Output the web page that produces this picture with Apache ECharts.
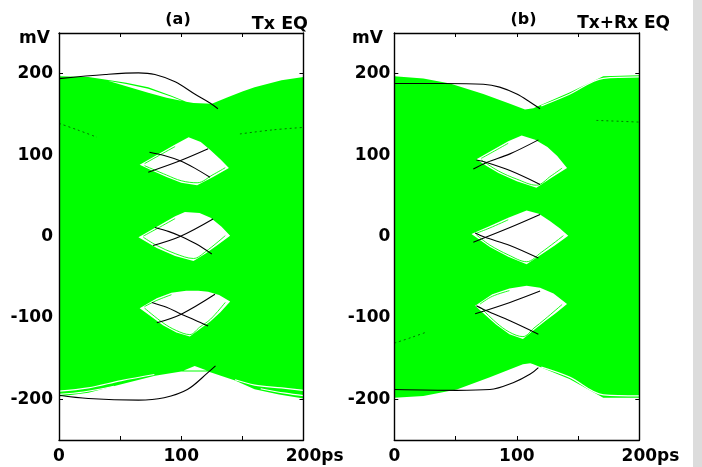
<!DOCTYPE html>
<html>
<head>
<meta charset="utf-8">
<script src="https://cdn.jsdelivr.net/npm/echarts@6/dist/echarts.min.js"></script>
<style>html,body{margin:0;padding:0;background:#fff;}#c{width:702px;height:467px;}</style>
</head>
<body>
<div id="c"></div>
<script>
// ---------- tick labels ----------
const xLabelValues = [0, 100, 200];
const xLabelTexts = ['0', '100', '200ps'];
const yLabelValues = [-200, -100, 0, 100, 200];
const yLabelTexts = ['-200', '-100', '0', '100', '200'];

// ---------- panel (a) Tx EQ ----------
const envATop = [[0,197],[24,196],[37.6,193],[55,189],[73,183.5],[92,173],[104,165.5],[110,164],[125,163],[138,171],[150,178],[160,183.5],[182,192],[200,196]];
const envABottom = [[200,-199],[180,-194],[160,-187.7],[144,-177],[122,-166],[111,-166],[100,-166],[78.5,-171],[51,-181.5],[24,-192],[0,-196.5]];
const gapsA = [
  [[40,191.2],[55,187.5],[73,181.5],[92,171.8],[101,166.5],[88,170.5],[73,176.5],[55,184.5]],
  [[102,-164.5],[111,-159],[121,-164.5]]
];
const eyeATop = [[66,88],[80,100],[95,113],[106,122],[116,116],[124,106],[132,95],[139,84],[126,73],[113,63],[100,66],[88,73],[76,81]];
const eyeAMid = [[65,-1],[80,12],[95,25],[103,30],[115,29],[124,23],[133,12],[140,1],[130,-10],[120,-21],[110,-30],[95,-24],[80,-14]];
const eyeABot = [[66,-88],[80,-76],[92,-69],[104,-66.5],[114,-66.5],[122,-68],[131,-72],[140,-80],[132,-93],[124,-104],[115,-114],[107,-123],[96,-118],[85,-109],[75,-98]];
const streaksA = [
  [[0,-190],[24,-186],[51,-177],[78,-169.5]],
  [[0,-194],[20,-191],[45,-184]],
  [[200,-189],[182,-186],[160,-182.5],[144,-176]],
  [[200,-195.5],[185,-192.5],[165,-187]]
];
const fringesA = [
  [[70,87],[88,75.5],[100,68.5],[113,66],[126,76],[136,84.5]],
  [[70,89.5],[80,98],[95,110.5]],
  [[69,-1],[80,-11],[95,-21],[110,-27],[120,-18.5],[136,1]],
  [[69,0.5],[80,9.5],[95,22]],
  [[70,-88],[85,-106],[96,-115.5],[107,-120.5],[115,-111.5],[124,-101.5],[136,-81]],
  [[70,-86],[80,-78.5],[92,-71.5]]
];
const faintA = [
  [[0,139],[15,131],[31,122]],
  [[148,126],[175,131],[200,134]]
];
const blackA = [
  [[0,194],[38,199],[65,201],[78.5,199],[95,190],[111,175],[123.5,164],[130,157]],
  [[0,-195],[24,-199],[65,-201],[86,-198],[105,-188],[122,-167],[128,-159]],
  [[74,103.5],[86,99.5],[99,93],[111,84],[123.5,72.7]],
  [[73,79],[99,93],[122,107.7]],
  [[78.5,11],[90,6],[100,0],[112,-9],[125,-21.5]],
  [[77,-11],[99,0],[126,21.5]],
  [[76,-81],[88,-87],[100,-95.4],[111,-102.5],[122,-110]],
  [[80,-106],[100,-95.4],[127.6,-71]]
];

// ---------- panel (b) Tx+Rx EQ ----------
const envBTop = [[0,197],[23.7,194],[45.5,188],[72.7,175],[94.4,163],[106.7,156],[113.5,157.5],[143,177],[170.6,197],[200,198]];
const envBBottom = [[200,-198],[170.6,-198],[143,-175],[113.5,-157],[111,-155.7],[105,-157],[78,-173],[51,-188],[23.7,-196],[0,-198]];
const gapsB = [];
const eyeBTop = [[67,95],[80,106],[93,117],[104,124],[115,119],[125,110],[133,99],[141,84],[128,72],[116,60],[100,68],[85,78],[75,87]];
const eyeBMid = [[63,3],[78,13],[93,23],[108,32],[118,28],[127,19],[135,10],[142,1],[131,-11],[120,-22],[108,-34],[93,-25],[78,-13]];
const eyeBBot = [[66,-85],[80,-71],[94,-64],[108,-60.5],[119,-63],[130,-70],[141,-83],[132,-94],[123,-104],[114,-115],[105,-126],[94,-120],[83,-108],[74,-96]];
const streaksB = [
  [[120,160.5],[143,174.8],[170.6,194.3],[200,196.2]],
  [[120,-160.5],[143,-172.8],[170.6,-194.5],[200,-195.8]]
];
const fringesB = [
  [[71,94],[85,80.5],[100,70.5],[116,63],[128,74.5],[137,84]],
  [[71,96],[80,103.5],[93,114.5]],
  [[67,2],[78,-10.5],[93,-22.5],[108,-31],[120,-19.5],[138,1]],
  [[67,4],[78,10.5],[93,20.5]],
  [[70,-86.5],[83,-105.5],[94,-117.5],[105,-123],[114,-112.5],[123,-101.5],[137,-83.5]],
  [[70,-83],[80,-73.5],[94,-66.5]]
];
const faintB = [
  [[165,142.6],[185,141.5],[200,140.5]],
  [[0,-131],[14,-124],[27,-117]]
];
const blackB = [
  [[0,188],[40,188],[72.7,187],[86,183.5],[100,175],[111,165],[119,157]],
  [[0,-188],[51,-189],[78,-188],[97,-179.6],[111,-169],[117.6,-161]],
  [[64.5,83],[75.4,91],[94.4,101.5],[117.6,118.7]],
  [[67,94],[75.4,91],[94.4,81],[119,64]],
  [[64.5,-7],[94.4,11],[119,27]],
  [[66,4.3],[74,-1],[94.4,-11],[117.6,-26.5]],
  [[66,-95],[94.4,-81],[119,-67]],
  [[67,-85],[75.4,-91.3],[94.4,-103.6],[117.6,-120]]
];

const GREEN = '#00ff00';
const FONT = 'DejaVu Sans';

function polySeries(grid, polys, color, z) {
  return {
    type: 'custom', xAxisIndex: grid * 2, yAxisIndex: grid * 4, z: z, silent: true,
    data: polys.map((p, i) => [i, 0]),
    renderItem: function (params, api) {
      const pts = polys[params.dataIndex].map(p => api.coord(p));
      return { type: 'polygon', shape: { points: pts }, style: { fill: color, stroke: null } };
    }
  };
}
function lineSeries(grid, pts, color, width, z, extra) {
  return {
    type: 'line', xAxisIndex: grid * 2, yAxisIndex: grid * 4, z: z, silent: true,
    data: pts, showSymbol: false, symbol: 'none', smooth: 0.35,
    lineStyle: Object.assign({ color: color, width: width }, extra || {})
  };
}

function xAxes(grid) {
  const base = {
    gridIndex: grid, type: 'value', min: 0, max: 200, interval: 50,
    splitLine: { show: false },
    axisLine: { onZero: false, lineStyle: { color: '#000', width: 1.4 } },
    axisTick: { inside: true, length: 4, lineStyle: { color: '#000', width: 1 } }
  };
  return [
    Object.assign({}, base, {
      position: 'bottom',
      axisLabel: {
        margin: 8, color: '#000', fontFamily: FONT, fontWeight: 'bold', fontSize: 17,
        formatter: function (v) {
          const i = xLabelValues.indexOf(v);
          if (i < 0) return '';
          const t = xLabelTexts[i];
          if (t.length > 3) return '{pad|' + t.slice(3) + '}' + t;
          return t;
        },
        rich: { pad: { color: 'transparent', fontFamily: FONT, fontWeight: 'bold', fontSize: 17 } }
      }
    }),
    Object.assign({}, base, { position: 'top', axisLabel: { show: false } })
  ];
}
function yAxes(grid, margin) {
  const base = { gridIndex: grid, type: 'value', min: -250, max: 250, interval: 50, splitLine: { show: false } };
  return [
    Object.assign({}, base, {
      position: 'left',
      axisLine: { show: false, onZero: false },
      axisTick: { inside: true, length: 4, lineStyle: { color: '#000' } },
      axisLabel: {
        margin: margin, color: '#000', fontFamily: FONT, fontWeight: 'bold', fontSize: 17,
        formatter: function (v) { const i = yLabelValues.indexOf(v); return i < 0 ? '' : yLabelTexts[i]; }
      }
    }),
    Object.assign({}, base, {
      position: 'right',
      axisLine: { show: false, onZero: false },
      axisTick: { inside: true, length: 4, lineStyle: { color: '#000' } },
      axisLabel: { show: false }
    }),
    Object.assign({}, base, {
      position: 'left', z: 10,
      axisLine: { show: true, onZero: false, lineStyle: { color: '#000', width: 1.4 } },
      axisTick: { show: false }, axisLabel: { show: false }
    }),
    Object.assign({}, base, {
      position: 'right', z: 10,
      axisLine: { show: true, onZero: false, lineStyle: { color: '#000', width: 1.4 } },
      axisTick: { show: false }, axisLabel: { show: false }
    })
  ];
}

const series = [];
function buildPanel(g, envTop, envBottom, gaps, streaks, faint, eyes, fringes, blacks) {
  series.push(polySeries(g, [envTop.concat(envBottom)], GREEN, 2));
  if (gaps.length) series.push(polySeries(g, gaps, '#ffffff', 3));
  streaks.forEach(s => series.push(lineSeries(g, s, '#ffffff', 1.2, 3)));
  faint.forEach(s => series.push(lineSeries(g, s, '#000000', 1, 3, { type: [2, 3], opacity: 0.55 })));
  series.push(polySeries(g, eyes, '#ffffff', 4));
  fringes.forEach(s => series.push(lineSeries(g, s, GREEN, 0.9, 5)));
  blacks.forEach(s => series.push(lineSeries(g, s, '#000000', 1.1, 6)));
}
buildPanel(0, envATop, envABottom, gapsA, streaksA, faintA, [eyeATop, eyeAMid, eyeABot], fringesA, blackA);
buildPanel(1, envBTop, envBBottom, gapsB, streaksB, faintB, [eyeBTop, eyeBMid, eyeBBot], fringesB, blackB);

function txt(text, x, y, align, size) {
  return { type: 'text', x: x, y: y, style: { text: text, fill: '#000', font: 'bold ' + size + 'px ' + FONT, textAlign: align, textVerticalAlign: 'middle' } };
}

const chart = echarts.init(document.getElementById('c'), null, { renderer: 'canvas' });
chart.setOption({
  animation: false,
  backgroundColor: '#fff',
  grid: [
    { left: 59, top: 33, width: 244.5, height: 407 },
    { left: 394.3, top: 33, width: 245, height: 407 }
  ],
  xAxis: xAxes(0).concat(xAxes(1)),
  yAxis: yAxes(0, 6).concat(yAxes(1, 4)),
  series: series,
  graphic: [
    txt('(a)', 178, 20, 'center', 16),
    txt('Tx EQ', 308, 24, 'right', 17.5),
    txt('mV', 19, 39, 'left', 17),
    txt('(b)', 523.5, 20, 'center', 16),
    txt('Tx+Rx EQ', 670, 24, 'right', 17),
    txt('mV', 352, 39, 'left', 17),
    { type: 'rect', shape: { x: 693, y: 0, width: 9, height: 467 }, style: { fill: '#dcdcdc' } }
  ]
});
</script>
</body>
</html>
